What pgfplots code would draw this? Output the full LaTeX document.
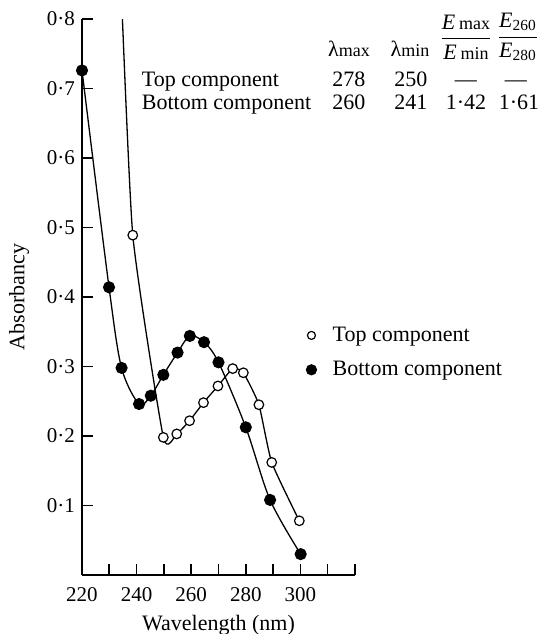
\documentclass[border=0pt]{standalone}
\usepackage{fontspec}
\setmainfont{Liberation Serif}
\usepackage{pgfplots}
\pgfplotsset{compat=1.18}

% top component (open circles); first point lies above the frame, line only
\pgfplotstableread{
x y
234.0 0.880
238.6 0.489
249.8 0.198
254.7 0.203
259.4 0.222
264.5 0.248
269.8 0.272
275.2 0.297
279.1 0.291
284.8 0.245
289.5 0.162
299.6 0.078
}\topcomp

% bottom component (filled circles)
\pgfplotstableread{
x y
220.0 0.726
229.9 0.414
234.5 0.298
240.9 0.246
245.2 0.258
249.8 0.288
255.0 0.320
259.5 0.344
264.7 0.335
270.0 0.306
280.0 0.2125
288.9 0.108
300.1 0.030
}\botcomp

\begin{document}
\begin{tikzpicture}[font=\fontsize{11}{13}\selectfont]
\useasboundingbox (-41pt,-29.5pt) rectangle (231.5pt,287.5pt);
\begin{axis}[
  at={(0,0)}, anchor=south west,
  scale only axis,
  width=136.5pt, height=278pt,
  xmin=220, xmax=320, ymin=0, ymax=0.8,
  axis lines=left,
  axis line style={-, line width=1pt},
  tick align=inside,
  major tick length=5.5pt,
  tick style={line width=0.8pt, black},
  xtick={220,230,...,320},
  xticklabels={220,,240,,260,,280,,300,,},
  ytick={0.1,0.2,0.3,0.4,0.5,0.6,0.7,0.8},
  yticklabels={0·1,0·2,0·3,0·4,0·5,0·6,0·7,0·8},
  xticklabel style={font=\fontsize{10.5}{12}\selectfont, yshift=-2.5pt},
  yticklabel style={font=\fontsize{10.5}{12}\selectfont},
  xlabel={Wavelength (nm)},
  ylabel={Absorbancy},
  every axis x label/.style={at={(axis description cs:0.5,0)}, anchor=base, yshift=-27.5pt},
  every axis y label/.style={at={(axis description cs:0,0.5)}, rotate=90, anchor=center, yshift=31.5pt},
  clip mode=individual,
  legend style={draw=none, fill=none, inner sep=0pt, at={(0.82,0.40)}, anchor=west,
                font=\fontsize{11}{13}\selectfont, legend cell align=left,
                row sep=4.5pt,
                /tikz/every odd column/.append style={column sep=6pt}},
  legend image code/.code={\draw[mark repeat=2,mark phase=2,#1] plot coordinates {(0pt,0pt) (5pt,0pt) (10pt,0pt)};},
]
  \addplot[black, line width=0.65pt, smooth, tension=0.3, mark=*, mark indices={1,2,...,11},
           mark options={line width=0.6pt, fill=white, draw=black, scale=1.2}, forget plot]
    table {\topcomp};
  \addplot[black, line width=0.65pt, smooth, mark=*,
           mark options={scale=1.35}, forget plot]
    table {\botcomp};
  \addlegendimage{only marks, mark=*, mark options={line width=0.6pt, fill=white, draw=black, scale=1.0}}
  \addlegendentry{Top component}
  \addlegendimage{only marks, mark=*, mark options={scale=1.3}}
  \addlegendentry{Bottom component}
\end{axis}

% little table of maxima and minima
\node[anchor=base] at (133.5pt,259.5pt) {λ{\fontsize{9}{10}\selectfont max}};
\node[anchor=base] at (164pt,259.5pt) {λ{\fontsize{9}{10}\selectfont min}};
\node at (192pt,269pt) {$\displaystyle\frac{\mbox{\textit{E}\,\fontsize{9}{10}\selectfont max}}{\mbox{\textit{E}\,\fontsize{9}{10}\selectfont min}}$};
\node at (218pt,269pt) {$\displaystyle\frac{\mbox{\textit{E}\textsubscript{260}}}{\mbox{\textit{E}\textsubscript{280}}}$};
\node[anchor=base west, inner sep=0pt] at (29.75pt,244pt) {Top component};
\node[anchor=base west, inner sep=0pt] at (29.75pt,233pt) {Bottom component};
\node[anchor=base] at (133.5pt,244pt) {278};
\node[anchor=base] at (164.5pt,244pt) {250};
\node[anchor=base] at (192pt,244pt) {—};
\node[anchor=base] at (217pt,244pt) {—};
\node[anchor=base] at (133.5pt,233pt) {260};
\node[anchor=base] at (164.5pt,233pt) {241};
\node[anchor=base] at (192pt,233pt) {1·42};
\node[anchor=base] at (218.5pt,233pt) {1·61};
\end{tikzpicture}
\end{document}
